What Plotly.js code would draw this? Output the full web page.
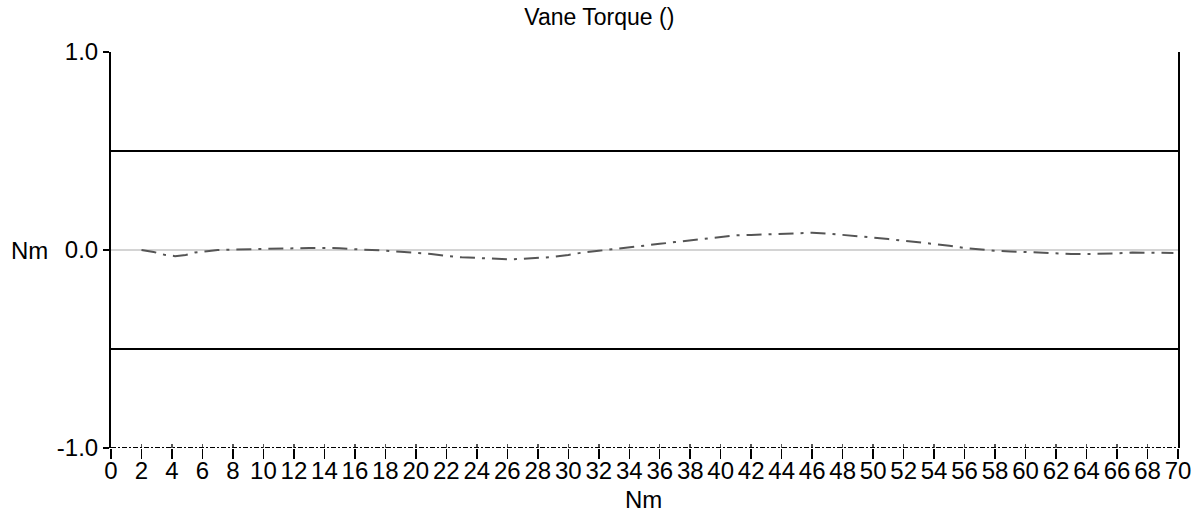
<!DOCTYPE html>
<html>
<head>
<meta charset="utf-8">
<script src="https://cdn.plot.ly/plotly-3.0.1.min.js"></script>
<style>html,body{margin:0;padding:0;background:#fff;}#chart{width:1202px;height:516px;}</style>
</head>
<body>
<div id="chart"></div>
<script>
const chartTitle = "Vane Torque ()";
const xAxisTitle = "Nm";
const yAxisTitle = "Nm";
const xTickVals = [0,2,4,6,8,10,12,14,16,18,20,22,24,26,28,30,32,34,36,38,40,42,44,46,48,50,52,54,56,58,60,62,64,66,68,70];
const yTickVals = [-1, 0, 1];
const yTickText = ["-1.0", "0.0", "1.0"];
const limitValues = [0.5, -0.5];
const torqueX = [2,2.8,3.5,4.2,4.9,5.5,6.3,7,8,9,10,11,12,13,14,15,16,17,18,19,20,21,22,23,24,25,26,27,28,29,30,31,32,33,34,35,36,37,38,39,40,41,42,43,44,45,46,47,48,49,50,51,52,53,54,55,56,57,58,59,60,61,62,63,64,65,66,67,68,69,69.7];
const torqueY = [0.0,-0.01,-0.024,-0.031,-0.025,-0.013,-0.006,0.0,0.002,0.004,0.007,0.008,0.009,0.01,0.01,0.009,0.004,0.001,-0.003,-0.009,-0.013,-0.02,-0.03,-0.037,-0.04,-0.045,-0.047,-0.045,-0.04,-0.035,-0.025,-0.012,-0.004,0.004,0.013,0.021,0.031,0.04,0.049,0.057,0.065,0.074,0.076,0.079,0.081,0.084,0.087,0.083,0.077,0.071,0.063,0.055,0.047,0.04,0.032,0.022,0.01,0.002,-0.004,-0.007,-0.01,-0.014,-0.018,-0.02,-0.02,-0.019,-0.017,-0.013,-0.015,-0.015,-0.015];

const xMin = xTickVals[0], xMax = xTickVals[xTickVals.length-1];
const yMin = yTickVals[0], yMax = yTickVals[yTickVals.length-1];

const shapes = limitValues.map(v => ({
  type: 'line', xref: 'x', yref: 'y', x0: xMin, x1: xMax, y0: v, y1: v,
  line: {color: '#000', width: 2}
}));
shapes.push({
  type: 'line', xref: 'x', yref: 'y', x0: xMin, x1: xMax, y0: yMin, y1: yMin,
  line: {color: '#000', width: 2, dash: '5px,2px,2px,2px'}
});

const data = [{
  type: 'scatter', mode: 'lines', x: torqueX, y: torqueY,
  line: {color: '#555', width: 2, dash: '15px,7px,3px,7px'},
  hoverinfo: 'skip', showlegend: false
}];
data.push({type: 'scatter', mode: 'lines', x: [xMin], y: [0], xaxis: 'x2', yaxis: 'y', line: {width: 0}, hoverinfo: 'skip', showlegend: false});
data.push({type: 'scatter', mode: 'lines', x: [xMin], y: [0], xaxis: 'x3', yaxis: 'y', line: {width: 0}, hoverinfo: 'skip', showlegend: false});

const family = 'Liberation Sans, Arial, sans-serif';
const tickAxis = (ticks, len, color) => ({
  overlaying: 'x', anchor: 'y', side: 'bottom',
  range: [xMin, xMax], tickvals: xTickVals,
  ticks: ticks, ticklen: len, tickwidth: 1.5, tickcolor: color,
  showticklabels: false, showgrid: false, zeroline: false, showline: false,
  fixedrange: true
});
const layout = {
  width: 1202, height: 516,
  margin: {l: 111, r: 24, t: 52, b: 68},
  paper_bgcolor: '#fff', plot_bgcolor: '#fff',
  showlegend: false,
  font: {family: family, color: '#000'},
  title: {text: chartTitle, font: {family: family, size: 23, color: '#000'}, x: 0.4986, xanchor: 'center', y: 0.967, yanchor: 'middle'},
  xaxis: {
    range: [xMin, xMax], tickvals: xTickVals, ticktext: xTickVals.map(String),
    ticks: 'outside', ticklen: 1, tickwidth: 1, tickcolor: 'rgba(0,0,0,0)',
    showgrid: false, zeroline: false, showline: false,
    tickfont: {family: family, size: 24, color: '#000'},
    fixedrange: true
  },
  xaxis2: tickAxis('outside', 10, '#000'),
  xaxis3: tickAxis('inside', 4, '#555'),
  yaxis: {
    range: [yMin, yMax], tickvals: yTickVals, ticktext: yTickText,
    ticks: 'outside', ticklen: 6, tickwidth: 1.5, tickcolor: '#000',
    showgrid: true, gridcolor: '#dcdcdc', gridwidth: 2,
    zeroline: true, zerolinecolor: '#d4d4d4', zerolinewidth: 2,
    showline: true, linecolor: '#000', linewidth: 2, mirror: true,
    tickfont: {family: family, size: 24, color: '#000'},
    fixedrange: true
  },
  shapes: shapes,
  annotations: [{
    text: yAxisTitle, xref: 'paper', yref: 'y', x: -0.0764, y: 0,
    xanchor: 'center', yanchor: 'middle', showarrow: false,
    font: {family: family, size: 24, color: '#000'}
  }, {
    text: xAxisTitle, xref: 'paper', yref: 'paper', x: 0.4986, y: -0.131,
    xanchor: 'center', yanchor: 'middle', showarrow: false,
    font: {family: family, size: 24, color: '#000'}
  }]
};

Plotly.newPlot('chart', data, layout, {displayModeBar: false, staticPlot: true});
</script>
</body>
</html>
